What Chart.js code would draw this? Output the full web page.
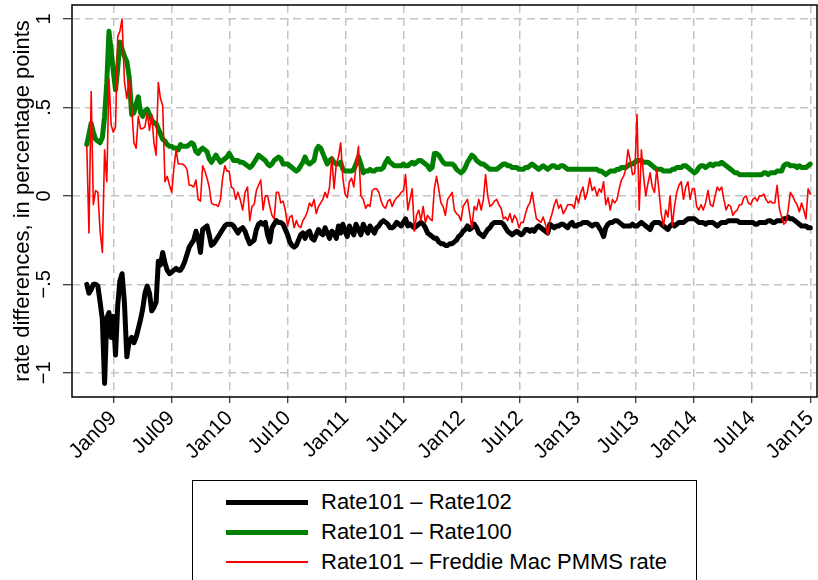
<!DOCTYPE html>
<html>
<head>
<meta charset="utf-8">
<script src="https://cdn.jsdelivr.net/npm/chart.js@4.4.1/dist/chart.umd.min.js"></script>
<style>
  html, body { margin: 0; padding: 0; background: #fff; overflow: hidden; }
  #wrap { position: relative; width: 818px; height: 580px; overflow: hidden; }
  #chart { position: absolute; left: 0; top: 0; }
  #legend {
    position: absolute; left: 192px; top: 480px; width: 505px; height: 130px;
    border: 1px solid #000; box-sizing: border-box; background: #fff;
    font-family: "Liberation Sans", Arial, Helvetica, sans-serif; font-size: 22px; color: #000;
  }
  .item { position: absolute; left: 0; width: 100%; height: 30px; }
  .swatch { position: absolute; left: 33px; width: 82px; top: 50%; }
  .label { position: absolute; left: 128px; top: 50%; transform: translateY(-50%); white-space: nowrap; line-height: 1; }
</style>
</head>
<body>
<div id="wrap">
  <canvas id="chart" width="818" height="580"></canvas>
  <div id="legend"></div>
</div>
<script>
// Weekly series, first observation Thursday 9 Oct 2008, one value per week.
const firstWeek = [2008, 9, 9]; // year, month index, day

const rate101MinusRate102 = [
  -0.50,-0.55,-0.53,-0.50,-0.50,-0.51,-0.60,-0.70,-1.06,-0.69,
  -0.66,-0.80,-0.68,-0.90,-0.62,-0.48,-0.44,-0.60,-0.91,-0.82,
  -0.80,-0.83,-0.80,-0.75,-0.70,-0.64,-0.55,-0.51,-0.55,-0.65,
  -0.63,-0.60,-0.37,-0.39,-0.32,-0.38,-0.42,-0.44,-0.43,-0.42,
  -0.41,-0.42,-0.42,-0.40,-0.37,-0.33,-0.29,-0.27,-0.25,-0.20,
  -0.24,-0.32,-0.19,-0.18,-0.17,-0.22,-0.28,-0.27,-0.25,-0.23,
  -0.21,-0.19,-0.17,-0.16,-0.16,-0.16,-0.17,-0.19,-0.21,-0.19,-0.18,
  -0.20,-0.24,-0.27,-0.26,-0.25,-0.19,-0.16,-0.15,-0.16,-0.15,
  -0.22,-0.26,-0.18,-0.16,-0.14,-0.15,-0.15,-0.16,-0.19,-0.22,
  -0.26,-0.28,-0.29,-0.28,-0.25,-0.22,-0.21,-0.24,-0.21,-0.20,
  -0.24,-0.25,-0.22,-0.19,-0.21,-0.22,-0.18,-0.21,-0.24,-0.20,
  -0.21,-0.24,-0.17,-0.21,-0.16,-0.20,-0.23,-0.17,-0.20,-0.22,
  -0.16,-0.19,-0.22,-0.16,-0.19,-0.21,-0.17,-0.19,-0.21,-0.18,
  -0.17,-0.15,-0.14,-0.15,-0.16,-0.18,-0.18,-0.17,-0.15,-0.16,
  -0.17,-0.15,-0.13,-0.17,-0.16,-0.17,-0.18,-0.17,-0.16,-0.15,
  -0.16,-0.18,-0.21,-0.22,-0.23,-0.24,-0.24,-0.26,-0.27,-0.27,
  -0.28,-0.28,-0.27,-0.27,-0.26,-0.25,-0.23,-0.22,-0.20,-0.19,
  -0.17,-0.19,-0.18,-0.16,-0.18,-0.21,-0.22,-0.23,-0.21,-0.19,
  -0.18,-0.16,-0.15,-0.15,-0.15,-0.15,-0.16,-0.18,-0.20,-0.21,
  -0.22,-0.21,-0.20,-0.21,-0.22,-0.21,-0.19,-0.19,-0.20,-0.19,
  -0.20,-0.18,-0.17,-0.18,-0.19,-0.20,-0.21,-0.16,-0.17,-0.18,
  -0.17,-0.17,-0.16,-0.16,-0.17,-0.18,-0.16,-0.15,-0.17,-0.17,
  -0.16,-0.16,-0.15,-0.15,-0.15,-0.16,-0.17,-0.16,-0.16,-0.18,-0.20,
  -0.23,-0.18,-0.16,-0.15,-0.15,-0.14,-0.14,-0.15,-0.16,-0.17,
  -0.17,-0.17,-0.17,-0.16,-0.17,-0.17,-0.16,-0.15,-0.16,-0.17,
  -0.18,-0.19,-0.16,-0.15,-0.15,-0.15,-0.16,-0.17,-0.18,-0.19,
  -0.17,-0.16,-0.17,-0.16,-0.15,-0.15,-0.15,-0.14,-0.13,-0.13,
  -0.13,-0.13,-0.14,-0.15,-0.15,-0.15,-0.16,-0.15,-0.15,-0.15,
  -0.16,-0.17,-0.16,-0.15,-0.15,-0.15,-0.14,-0.14,-0.14,-0.14,
  -0.14,-0.15,-0.15,-0.15,-0.15,-0.15,-0.15,-0.15,-0.16,-0.16,
  -0.15,-0.15,-0.15,-0.15,-0.14,-0.14,-0.15,-0.15,-0.14,-0.14,
  -0.14,-0.13,-0.13,-0.12,-0.13,-0.13,-0.14,-0.15,-0.16,-0.17,
  -0.17,-0.17,-0.18,-0.18
];

const rate101MinusRate100 = [
  0.29,0.35,0.41,0.36,0.32,0.31,0.30,0.33,0.45,0.64,
  0.93,0.82,0.70,0.60,0.72,0.87,0.83,0.79,0.76,0.67,
  0.46,0.47,0.52,0.56,0.47,0.45,0.48,0.49,0.46,0.43,
  0.41,0.41,0.38,0.35,0.32,0.31,0.29,0.28,0.28,0.27,
  0.27,0.26,0.29,0.28,0.28,0.28,0.29,0.30,0.29,0.25,
  0.24,0.26,0.27,0.26,0.25,0.21,0.19,0.21,0.23,0.21,
  0.19,0.20,0.21,0.22,0.24,0.22,0.20,0.20,0.20,0.19,0.19,
  0.18,0.17,0.16,0.17,0.19,0.21,0.23,0.22,0.21,0.20,
  0.18,0.17,0.18,0.20,0.21,0.22,0.21,0.18,0.18,0.18,
  0.17,0.16,0.15,0.14,0.15,0.17,0.19,0.22,0.19,0.18,
  0.19,0.20,0.26,0.28,0.27,0.24,0.21,0.18,0.20,0.21,
  0.19,0.18,0.18,0.19,0.15,0.14,0.14,0.14,0.14,0.15,
  0.18,0.22,0.18,0.13,0.14,0.14,0.15,0.14,0.14,0.15,
  0.15,0.15,0.16,0.19,0.21,0.19,0.18,0.17,0.17,0.17,
  0.17,0.18,0.17,0.17,0.18,0.19,0.18,0.19,0.20,0.20,
  0.19,0.18,0.17,0.15,0.16,0.24,0.24,0.23,0.21,0.19,
  0.18,0.18,0.18,0.18,0.17,0.15,0.14,0.13,0.14,0.16,
  0.19,0.21,0.23,0.22,0.20,0.19,0.18,0.18,0.17,0.16,
  0.15,0.15,0.15,0.15,0.16,0.17,0.18,0.18,0.17,0.17,
  0.16,0.16,0.16,0.15,0.15,0.15,0.16,0.16,0.17,0.18,
  0.17,0.16,0.15,0.16,0.17,0.16,0.15,0.16,0.17,0.17,
  0.16,0.16,0.17,0.17,0.16,0.15,0.15,0.15,0.15,0.15,
  0.15,0.15,0.15,0.15,0.15,0.15,0.15,0.15,0.15,0.14,0.14,
  0.13,0.12,0.13,0.14,0.14,0.14,0.15,0.15,0.16,0.16,
  0.16,0.17,0.18,0.18,0.19,0.20,0.20,0.20,0.19,0.19,
  0.19,0.18,0.17,0.16,0.15,0.15,0.15,0.14,0.14,0.14,
  0.14,0.15,0.15,0.16,0.16,0.16,0.17,0.17,0.16,0.15,
  0.14,0.13,0.14,0.16,0.17,0.17,0.16,0.17,0.18,0.17,
  0.18,0.18,0.18,0.19,0.18,0.17,0.16,0.15,0.14,0.13,
  0.13,0.12,0.12,0.12,0.12,0.12,0.12,0.12,0.12,0.12,
  0.12,0.12,0.13,0.13,0.12,0.13,0.13,0.13,0.14,0.14,
  0.14,0.17,0.18,0.18,0.17,0.17,0.17,0.16,0.17,0.16,
  0.16,0.16,0.17,0.18
];

const rate101MinusPmms = [
  0.28,-0.21,0.59,-0.05,0.03,0.02,-0.20,-0.32,0.26,0.08,
  0.66,0.40,0.36,0.39,0.90,0.93,1.00,0.65,0.55,0.66,
  0.50,0.30,0.27,0.45,0.38,0.38,0.39,0.47,0.37,0.46,
  0.30,0.23,0.64,0.55,0.51,0.08,0.11,0.06,0.02,0.16,
  0.26,0.18,0.18,0.18,0.17,0.15,0.06,0.06,0.05,0.09,
  -0.02,-0.03,0.17,0.14,0.10,0.05,-0.04,-0.05,-0.05,-0.06,-0.02,
  0.10,0.17,0.14,0.14,0.05,0.04,-0.02,0.02,-0.02,-0.08,
  0.02,0.05,-0.14,-0.06,-0.05,0.03,0.06,0.09,-0.08,0.00,
  0.00,-0.06,-0.11,-0.13,0.02,0.02,-0.04,-0.03,-0.08,-0.17,
  -0.12,-0.11,-0.18,-0.14,-0.17,-0.18,-0.14,-0.12,-0.09,-0.04,
  -0.06,-0.02,-0.10,-0.06,-0.04,-0.02,0.02,-0.01,0.05,0.22,
  0.04,0.18,0.22,0.30,0.10,0.01,-0.01,0.08,0.10,0.05,
  0.17,0.28,0.00,-0.02,-0.07,-0.05,-0.06,0.03,0.04,0.04,
  0.02,-0.03,-0.06,-0.07,-0.03,-0.02,-0.06,-0.03,-0.01,0.00,
  0.02,0.03,0.12,-0.08,-0.02,0.04,-0.20,-0.11,-0.08,-0.14,
  -0.06,-0.15,-0.11,-0.13,-0.14,0.04,0.11,0.04,-0.04,-0.06,
  -0.11,-0.02,0.00,0.02,-0.08,-0.10,-0.11,-0.14,-0.06,-0.04,
  -0.02,-0.10,-0.18,-0.06,-0.08,-0.02,-0.08,-0.02,0.12,0.00,
  -0.06,-0.05,-0.03,-0.02,-0.05,-0.07,-0.13,-0.12,-0.14,-0.10,
  -0.15,-0.11,-0.13,-0.18,-0.15,-0.15,-0.10,-0.06,-0.04,0.02,
  -0.06,-0.13,-0.14,-0.15,-0.12,-0.16,-0.22,-0.14,-0.10,-0.05,
  -0.02,-0.07,-0.05,-0.10,-0.08,-0.05,-0.05,-0.05,-0.07,0.00,-0.04,
  0.02,0.05,-0.02,0.02,0.10,0.03,0.05,0.00,0.04,0.02,
  0.08,-0.05,-0.01,-0.08,-0.02,-0.04,-0.02,0.04,0.09,0.11,
  0.15,0.26,0.20,0.12,0.13,0.46,-0.08,0.26,0.11,0.00,
  0.07,0.13,0.05,0.02,0.15,0.03,-0.10,-0.17,-0.08,-0.12,
  0.00,-0.17,-0.06,0.02,0.06,0.08,-0.02,0.05,0.08,-0.02,
  0.04,0.04,-0.06,-0.08,-0.05,-0.08,-0.04,0.03,-0.05,-0.06,
  0.00,0.05,0.03,0.05,-0.02,-0.08,-0.05,-0.06,-0.11,-0.09,
  -0.08,-0.05,-0.05,-0.01,0.00,-0.04,-0.05,-0.02,-0.01,-0.03,
  0.00,0.00,0.01,-0.02,-0.04,-0.03,-0.04,-0.04,0.06,-0.07,
  -0.12,-0.16,-0.15,-0.08,0.02,0.00,-0.03,-0.05,-0.09,-0.04,
  -0.08,-0.13,0.04,0.01
];

const seriesLabels = [
  'Rate101 \u2013 Rate102',
  'Rate101 \u2013 Rate100',
  'Rate101 \u2013 Freddie Mac PMMS rate'
];

// x axis: months counted from January 2009
const xTickMonths = [0, 6, 12, 18, 24, 30, 36, 42, 48, 54, 60, 66, 72];
const xTickLabels = ['Jan09','Jul09','Jan10','Jul10','Jan11','Jul11','Jan12',
                     'Jul12','Jan13','Jul13','Jan14','Jul14','Jan15'];
const yTickValues = [-1, -0.5, 0, 0.5, 1];
const yTickLabels = ['\u22121', '\u2212.5', '0', '.5', '1'];

// Convert a calendar date to fractional months since 1 Jan 2009.
function monthsSince2009(d) {
  const y = d.getUTCFullYear(), m = d.getUTCMonth(), day = d.getUTCDate();
  const daysInMonth = new Date(Date.UTC(y, m + 1, 0)).getUTCDate();
  return (y - 2009) * 12 + m + (day - 1) / daysInMonth;
}
function weekPosition(i) {
  return monthsSince2009(new Date(Date.UTC(firstWeek[0], firstWeek[1], firstWeek[2] + 7 * i)));
}
const toPoints = vals => vals.map((v, i) => ({ x: weekPosition(i), y: v }));

const FONT = '"Liberation Sans", Arial, Helvetica, sans-serif';

// Plot region outline (full box around the chart area)
const frame = {
  id: 'frame',
  afterDraw(chart) {
    const { ctx, chartArea: a } = chart;
    ctx.save();
    ctx.strokeStyle = '#000';
    ctx.lineWidth = 1.5;
    ctx.strokeRect(a.left, a.top, a.right - a.left, a.bottom - a.top);
    ctx.restore();
  }
};

const datasets = [
  { label: seriesLabels[0], data: toPoints(rate101MinusRate102), borderColor: '#000000', borderWidth: 5, order: 3 },
  { label: seriesLabels[1], data: toPoints(rate101MinusRate100), borderColor: '#008000', borderWidth: 5, order: 2 },
  { label: seriesLabels[2], data: toPoints(rate101MinusPmms), borderColor: '#ff0000', borderWidth: 1.6, order: 1 }
].map(d => Object.assign(d, {
  pointRadius: 0, tension: 0, fill: false,
  borderJoinStyle: 'round', borderCapStyle: 'round'
}));

const chart = new Chart(document.getElementById('chart'), {
  type: 'line',
  data: { datasets },
  options: {
    responsive: false,
    animation: false,
    devicePixelRatio: 1,
    layout: { padding: { top: 5, right: 1, left: 0, bottom: 0 } },
    plugins: { legend: { display: false }, tooltip: { enabled: false } },
    scales: {
      x: {
        type: 'linear',
        min: -4.27, max: 72.69,
        afterBuildTicks: s => { s.ticks = xTickMonths.map(v => ({ value: v })); },
        afterFit: s => { s.height = 183; s.paddingLeft = 0; s.paddingRight = 0; },
        ticks: {
          autoSkip: false, minRotation: 45, maxRotation: 45, padding: 3,
          color: '#000', font: { family: FONT, size: 21 },
          callback: (v, i) => xTickLabels[i]
        },
        grid: { color: '#c4c4c4', lineWidth: 1.5, tickLength: 6, tickColor: '#000', tickWidth: 1 },
        border: { display: false, dash: [8, 5] }
      },
      y: {
        type: 'linear',
        min: -1.137, max: 1.079,
        afterBuildTicks: s => { s.ticks = yTickValues.map(v => ({ value: v })); },
        afterFit: s => { s.width = 72; s.paddingTop = 0; s.paddingBottom = 0; },
        ticks: {
          minRotation: 90, maxRotation: 90, crossAlign: 'center', padding: 4,
          color: '#000', font: { family: FONT, size: 20 },
          callback: (v, i) => yTickLabels[i]
        },
        grid: { color: '#c4c4c4', lineWidth: 1.5, tickLength: 9, tickColor: '#000', tickWidth: 1 },
        border: { display: false, dash: [8, 5] },
        title: {
          display: true, text: 'rate differences, in percentage points',
          color: '#000', font: { family: FONT, size: 22 }, padding: { top: 10, bottom: 0 }
        }
      }
    }
  },
  plugins: [frame]
});

// Legend box built from the chart's own datasets
const legendEl = document.getElementById('legend');
datasets.forEach((ds, i) => {
  const row = document.createElement('div');
  row.className = 'item';
  row.style.top = (6 + 30 * i) + 'px';
  const sw = document.createElement('div');
  sw.className = 'swatch';
  sw.style.height = (ds.borderWidth > 3 ? 5 : 2) + 'px';
  sw.style.marginTop = (ds.borderWidth > 3 ? -2.5 : -1) + 'px';
  sw.style.background = ds.borderColor;
  const tx = document.createElement('div');
  tx.className = 'label';
  tx.textContent = ds.label;
  row.appendChild(sw);
  row.appendChild(tx);
  legendEl.appendChild(row);
});
</script>
</body>
</html>
